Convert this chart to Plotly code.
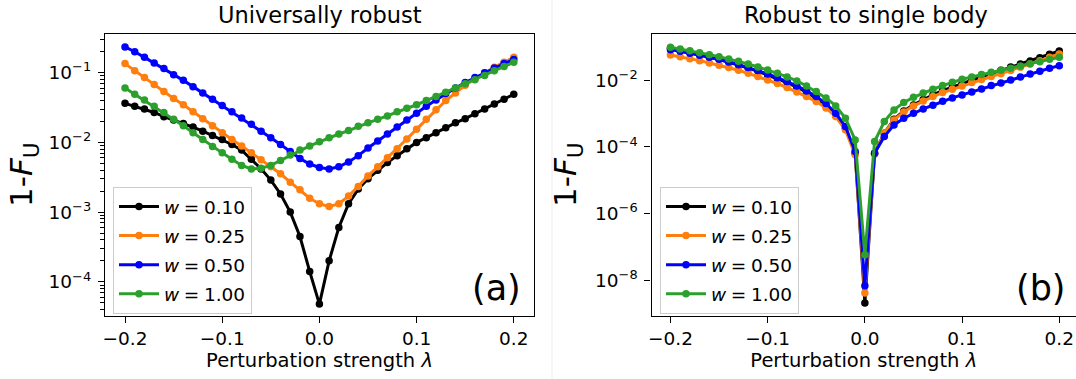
import plotly.graph_objects as go

lam = [round(-0.20 + 0.01 * i, 2) for i in range(41)]
w_labels = ["<i>w</i>\u2005=\u20050.10", "<i>w</i>\u2005=\u20050.25",
            "<i>w</i>\u2005=\u20050.50", "<i>w</i>\u2005=\u20051.00"]
colors = ["#000000", "#ff7f0e", "#0000ff", "#2ca02c"]

# Panel (a): Universally robust
a_w010 = [3.63e-2, 3.31e-2, 3.02e-2, 2.69e-2, 2.34e-2, 2.09e-2, 1.86e-2, 1.66e-2, 1.45e-2, 1.26e-2,
          1.10e-2, 9.33e-3, 7.76e-3, 5.75e-3, 4.17e-3, 2.88e-3, 1.82e-3, 1.00e-3, 4.47e-4, 1.41e-4,
          4.79e-5,
          2.00e-4, 6.03e-4, 1.32e-3, 2.14e-3, 3.02e-3, 3.98e-3, 5.13e-3, 6.46e-3, 8.13e-3, 1.00e-2,
          1.17e-2, 1.38e-2, 1.62e-2, 1.91e-2, 2.19e-2, 2.57e-2, 3.02e-2, 3.55e-2, 4.17e-2, 4.90e-2]
a_w025 = [1.35e-1, 1.07e-1, 8.51e-2, 6.76e-2, 5.37e-2, 4.27e-2, 3.47e-2, 2.75e-2, 2.19e-2, 1.74e-2,
          1.38e-2, 1.10e-2, 8.91e-3, 7.08e-3, 5.62e-3, 4.47e-3, 3.55e-3, 2.69e-3, 2.09e-3, 1.58e-3,
          1.32e-3,
          1.20e-3, 1.32e-3, 1.70e-3, 2.34e-3, 3.31e-3, 4.47e-3, 6.03e-3, 8.13e-3, 1.12e-2, 1.55e-2,
          2.14e-2, 2.95e-2, 3.98e-2, 5.13e-2, 6.61e-2, 8.13e-2, 1.00e-1, 1.20e-1, 1.41e-1, 1.66e-1]
a_w050 = [2.34e-1, 2.00e-1, 1.66e-1, 1.38e-1, 1.15e-1, 9.33e-2, 7.76e-2, 6.31e-2, 5.13e-2, 4.17e-2,
          3.39e-2, 2.75e-2, 2.24e-2, 1.82e-2, 1.45e-2, 1.17e-2, 9.33e-3, 7.41e-3, 5.89e-3, 4.90e-3,
          4.37e-3,
          4.17e-3, 4.47e-3, 5.25e-3, 6.46e-3, 8.32e-3, 1.05e-2, 1.32e-2, 1.66e-2, 2.09e-2, 2.63e-2,
          3.31e-2, 4.07e-2, 5.01e-2, 6.03e-2, 7.24e-2, 8.51e-2, 1.00e-1, 1.17e-1, 1.35e-1, 1.55e-1]
a_w100 = [6.03e-2, 4.90e-2, 4.07e-2, 3.31e-2, 2.69e-2, 2.14e-2, 1.74e-2, 1.38e-2, 1.10e-2, 8.71e-3,
          7.08e-3, 5.75e-3, 4.68e-3, 4.17e-3, 4.27e-3, 4.68e-3, 5.50e-3, 6.61e-3, 7.76e-3, 8.91e-3,
          1.02e-2,
          1.17e-2, 1.32e-2, 1.48e-2, 1.70e-2, 1.91e-2, 2.14e-2, 2.40e-2, 2.75e-2, 3.09e-2, 3.47e-2,
          3.98e-2, 4.57e-2, 5.25e-2, 6.03e-2, 6.92e-2, 7.94e-2, 9.12e-2, 1.07e-1, 1.23e-1, 1.41e-1]

# Panel (b): Robust to single body
b_w010 = [9.12e-2, 7.94e-2, 6.92e-2, 5.89e-2, 5.01e-2, 4.27e-2, 3.55e-2, 2.88e-2, 2.34e-2, 1.86e-2,
          1.45e-2, 1.12e-2, 8.51e-3, 6.17e-3, 4.37e-3, 2.88e-3, 1.74e-3, 9.12e-4, 3.63e-4, 6.46e-5,
          2.04e-9,
          6.46e-5, 2.57e-4, 6.76e-4, 1.20e-3, 1.82e-3, 2.63e-3, 3.63e-3, 4.90e-3, 6.31e-3, 7.94e-3,
          1.00e-2, 1.26e-2, 1.58e-2, 2.00e-2, 2.51e-2, 3.09e-2, 3.80e-2, 4.79e-2, 6.03e-2, 7.59e-2]
b_w025 = [5.75e-2, 5.13e-2, 4.47e-2, 3.89e-2, 3.31e-2, 2.82e-2, 2.40e-2, 2.00e-2, 1.62e-2, 1.29e-2,
          1.02e-2, 7.94e-3, 6.03e-3, 4.47e-3, 3.24e-3, 2.29e-3, 1.48e-3, 8.13e-4, 3.24e-4, 5.75e-5,
          4.07e-9,
          6.03e-5, 2.57e-4, 6.46e-4, 1.12e-3, 1.70e-3, 2.40e-3, 3.24e-3, 4.27e-3, 5.37e-3, 6.76e-3,
          8.51e-3, 1.05e-2, 1.29e-2, 1.58e-2, 1.95e-2, 2.45e-2, 3.09e-2, 3.89e-2, 4.90e-2, 6.17e-2]
b_w050 = [8.32e-2, 7.41e-2, 6.46e-2, 5.62e-2, 4.90e-2, 4.27e-2, 3.55e-2, 2.95e-2, 2.40e-2, 1.95e-2,
          1.55e-2, 1.20e-2, 9.12e-3, 6.76e-3, 4.79e-3, 3.24e-3, 2.00e-3, 1.02e-3, 4.07e-4, 7.24e-5,
          6.76e-9,
          6.46e-5, 2.04e-4, 4.57e-4, 7.24e-4, 1.02e-3, 1.38e-3, 1.78e-3, 2.34e-3, 2.95e-3, 3.63e-3,
          4.47e-3, 5.50e-3, 6.92e-3, 8.32e-3, 1.02e-2, 1.26e-2, 1.55e-2, 1.86e-2, 2.29e-2, 2.75e-2]
b_w100 = [9.77e-2, 8.71e-2, 7.76e-2, 6.76e-2, 5.89e-2, 5.13e-2, 4.37e-2, 3.72e-2, 3.09e-2, 2.51e-2,
          2.04e-2, 1.62e-2, 1.26e-2, 9.55e-3, 6.76e-3, 4.57e-3, 2.95e-3, 1.70e-3, 7.24e-4, 1.62e-4,
          5.75e-8,
          1.45e-4, 5.75e-4, 1.29e-3, 2.14e-3, 3.09e-3, 4.17e-3, 5.37e-3, 6.92e-3, 8.71e-3, 1.07e-2,
          1.26e-2, 1.48e-2, 1.74e-2, 2.00e-2, 2.29e-2, 2.69e-2, 3.16e-2, 3.63e-2, 4.27e-2, 4.90e-2]

panel_a = [a_w010, a_w025, a_w050, a_w100]
panel_b = [b_w010, b_w025, b_w050, b_w100]

x_ticks = [-0.2, -0.1, 0.0, 0.1, 0.2]
x_ticktext = ["\u22120.2", "\u22120.1", "0.0", "0.1", "0.2"]
ya_ticks = [1e-4, 1e-3, 1e-2, 1e-1]
ya_ticktext = ["10<sup>\u22124</sup>", "10<sup>\u22123</sup>", "10<sup>\u22122</sup>", "10<sup>\u22121</sup>"]
yb_ticks = [1e-8, 1e-6, 1e-4, 1e-2]
yb_ticktext = ["10<sup>\u22128</sup>", "10<sup>\u22126</sup>", "10<sup>\u22124</sup>", "10<sup>\u22122</sup>"]

FONT = "DejaVu Sans"
W, H = 1076, 379
ML, MR, MT, MB = 105, 0, 34, 63
PW = W - ML - MR
PH = H - MT - MB

def px_x(p):
    return (p - ML) / PW

def px_y(p):
    return (H - MB - p) / PH

fig = go.Figure()

for i in range(4):
    fig.add_trace(go.Scatter(
        x=lam, y=panel_a[i], mode="lines+markers", name=w_labels[i],
        line=dict(color=colors[i], width=3), marker=dict(color=colors[i], size=7.5),
        xaxis="x", yaxis="y", legend="legend", legendgroup="a%d" % i))
for i in range(4):
    fig.add_trace(go.Scatter(
        x=lam, y=panel_b[i], mode="lines+markers", name=w_labels[i],
        line=dict(color=colors[i], width=3), marker=dict(color=colors[i], size=7.5),
        xaxis="x2", yaxis="y2", legend="legend2", legendgroup="b%d" % i))

minor_a = [k * 10.0 ** e for e in range(-5, 0) for k in range(2, 10)]

axis_common = dict(showline=True, linecolor="black", linewidth=1.3, ticks="outside",
                   ticklen=6, tickwidth=1.2, tickcolor="black", showgrid=False, zeroline=False,
                   tickfont=dict(family=FONT, size=18.5, color="black"))

dom_a = [0, px_x(534)]
dom_b = [px_x(651.5), 1.0]

XLABEL = "Perturbation strength <i>\u03bb</i>"

fig.update_layout(
    width=W, height=H, margin=dict(l=ML, r=MR, t=MT, b=MB),
    paper_bgcolor="white", plot_bgcolor="white",
    font=dict(family=FONT, size=18, color="black"),
    xaxis=dict(domain=dom_a, range=[-0.2206, 0.2208], tickvals=x_ticks, ticktext=x_ticktext,
               mirror=True, anchor="y",
               title=dict(text=XLABEL, font=dict(family=FONT, size=19.5), standoff=3),
               **axis_common),
    yaxis=dict(domain=[0, 1], type="log", range=[-4.49, -0.445], tickvals=ya_ticks, ticktext=ya_ticktext,
               mirror=True, anchor="x", ticklabelstandoff=3,
               minor=dict(tickvals=minor_a, ticks="outside", ticklen=3.5, tickwidth=1, tickcolor="black"),
               **axis_common),
    xaxis2=dict(domain=dom_b, range=[-0.2195, 0.2172], tickvals=x_ticks, ticktext=x_ticktext,
                mirror=True, anchor="y2",
                title=dict(text=XLABEL, font=dict(family=FONT, size=19.5), standoff=3),
                **axis_common),
    yaxis2=dict(domain=[0, 1], type="log", range=[-9.08, -0.61], tickvals=yb_ticks, ticktext=yb_ticktext,
                mirror=False, anchor="x2", ticklabelstandoff=3, **axis_common),
    legend=dict(x=px_x(113), y=px_y(187), xanchor="left", yanchor="top",
                bgcolor="rgba(255,255,255,0.8)", bordercolor="#cccccc", borderwidth=1,
                font=dict(family=FONT, size=18.5, color="black"), tracegroupgap=2, itemwidth=40),
    legend2=dict(x=px_x(660), y=px_y(187), xanchor="left", yanchor="top",
                 bgcolor="rgba(255,255,255,0.8)", bordercolor="#cccccc", borderwidth=1,
                 font=dict(family=FONT, size=18.5, color="black"), tracegroupgap=2, itemwidth=40),
    showlegend=True,
)

annotations = [
    dict(text="Universally robust", x=px_x(319.5), y=px_y(15), xref="paper", yref="paper",
         xanchor="center", yanchor="middle", showarrow=False, font=dict(family=FONT, size=22.5)),
    dict(text="Robust to single body", x=px_x(866), y=px_y(15), xref="paper", yref="paper",
         xanchor="center", yanchor="middle", showarrow=False, font=dict(family=FONT, size=22.5)),
    dict(text="1-<i>F</i><sub>U</sub>", x=px_x(23), y=0.5, xref="paper", yref="paper", textangle=-90,
         xanchor="center", yanchor="middle", showarrow=False, font=dict(family=FONT, size=31)),
    dict(text="1-<i>F</i><sub>U</sub>", x=px_x(567), y=0.5, xref="paper", yref="paper", textangle=-90,
         xanchor="center", yanchor="middle", showarrow=False, font=dict(family=FONT, size=31)),
    dict(text="(a)", x=px_x(523), y=px_y(288), xref="paper", yref="paper",
         xanchor="right", yanchor="middle", showarrow=False, font=dict(family=FONT, size=35)),
    dict(text="(b)", x=px_x(1068), y=px_y(288), xref="paper", yref="paper",
         xanchor="right", yanchor="middle", showarrow=False, font=dict(family=FONT, size=35)),
]
fig.update_layout(annotations=annotations)

fig.add_shape(type="line", xref="paper", yref="paper", x0=px_x(552), x1=px_x(552),
              y0=px_y(0), y1=px_y(379), line=dict(color="#ececec", width=1), layer="below")

fig.write_html("out.html", config={"displayModeBar": False},
               post_script="document.body.style.margin='0px';")
